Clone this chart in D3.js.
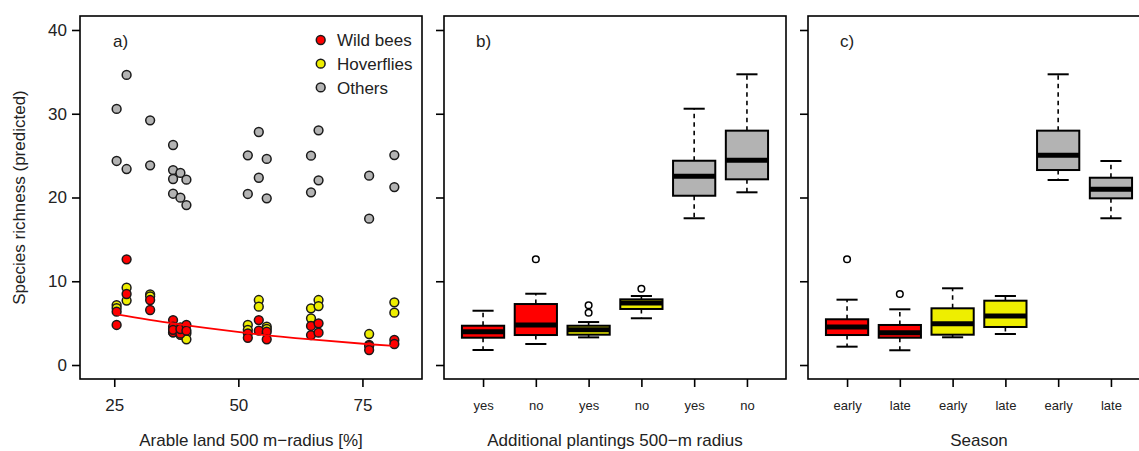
<!DOCTYPE html>
<html>
<head>
<meta charset="utf-8">
<script src="https://cdn.jsdelivr.net/npm/d3@7"></script>
<style>
  html, body { margin: 0; padding: 0; background: #fff; }
  svg { display: block; font-family: "Liberation Sans", Arial, sans-serif; }
</style>
</head>
<body>
<div id="chart"></div>
<script>
// ---- Panel a: predicted richness along the arable-land gradient ----
const othersX = [25.48, 25.48, 27.49, 27.49, 32.23, 32.23, 36.85, 36.85, 36.85, 36.85, 38.33, 38.33, 39.54, 39.54,
                 51.91, 51.91, 54.12, 54.12, 55.72, 55.72, 64.64, 64.64, 66.16, 66.16, 76.35, 76.35, 81.43, 81.43];
const othersY = [30.57, 24.36, 34.63, 23.40, 29.21, 23.84, 26.27, 23.28, 22.21, 20.45, 22.93, 19.98, 22.13, 19.10,
                 25.04, 20.42, 27.82, 22.36, 24.60, 19.90, 24.99, 20.62, 28.02, 22.05, 22.60, 17.47, 25.07, 21.25];

const hoverX = [25.48, 25.48, 27.49, 27.49, 32.23, 32.23, 36.85, 36.85, 38.33, 38.33, 39.54, 39.54,
                51.91, 51.91, 54.12, 54.12, 55.72, 55.72, 64.64, 64.64, 66.16, 66.16, 76.35, 76.35, 81.43, 81.43];
const hoverY = [7.16, 6.80, 9.23, 7.70, 8.44, 8.20, 4.40, 3.90, 4.50, 3.60, 3.78, 3.07,
                4.78, 4.20, 7.76, 6.96, 4.58, 4.30, 6.77, 5.57, 7.76, 7.04, 3.70, 2.40, 7.49, 6.25];

const beesX = [25.48, 25.48, 27.49, 27.49, 32.23, 32.23, 36.85, 36.85, 36.85, 36.85, 38.33, 38.33, 39.54, 39.54,
               51.91, 51.91, 54.12, 54.12, 55.72, 55.72, 64.64, 64.64, 66.16, 66.16, 76.35, 76.35, 81.43, 81.43];
const beesY = [6.37, 4.78, 12.62, 8.48, 7.76, 6.57, 5.37, 4.58, 3.90, 4.20, 3.74, 4.30, 4.78, 4.10,
               3.78, 3.25, 5.37, 4.10, 3.98, 3.07, 4.66, 3.58, 4.98, 3.86, 2.27, 1.79, 2.99, 2.51];

// fitted wild-bee trend
const beeFitX = [25.48, 36.85, 51.91, 64.64, 76.35, 81.43];
const beeFitY = [6.05, 4.96, 3.81, 3.05, 2.48, 2.27];

const arableTicks = [25, 50, 75];
const richnessTicks = [0, 10, 20, 30, 40];

const legendLabels = ["Wild bees", "Hoverflies", "Others"];
const groupColors = ["#ff0000", "#eeee00", "#b3b3b3"];

// ---- Panel b: additional plantings ----
const plantingLabels = ["yes", "no", "yes", "no", "yes", "no"];
const plantingGroup  = [0, 0, 1, 1, 2, 2];
const plantingLow    = [1.79, 2.51, 3.30, 5.58, 17.52, 20.62];
const plantingQ1     = [3.26, 3.58, 3.62, 6.69, 20.21, 22.17];
const plantingMed    = [3.98, 4.78, 4.20, 7.40, 22.53, 24.44];
const plantingQ3     = [4.69, 7.28, 4.69, 7.84, 24.39, 27.98];
const plantingHigh   = [6.48, 8.51, 5.13, 8.24, 30.60, 34.71];
const plantingOut    = [[], [12.62], [6.24, 7.13], [9.11], [], []];

// ---- Panel c: season ----
const seasonLabels = ["early", "late", "early", "late", "early", "late"];
const seasonGroup  = [0, 0, 1, 1, 2, 2];
const seasonLow    = [2.19, 1.76, 3.31, 3.70, 22.09, 17.52];
const seasonQ1     = [3.58, 3.26, 3.62, 4.54, 23.28, 19.90];
const seasonMed    = [4.54, 3.86, 4.93, 5.85, 25.04, 20.98];
const seasonQ3     = [5.46, 4.78, 6.77, 7.68, 27.98, 22.36];
const seasonHigh   = [7.80, 6.65, 9.16, 8.24, 34.71, 24.36];
const seasonOut    = [[12.62], [8.48], [], [], [], []];

const W = 1139, H = 451;
const plotTop = 16, plotBottom = 379;
const panelW = 342;
const panelLeft = [80, 444, 808];
const lw = 1.6;

const svg = d3.select("#chart").append("svg")
  .attr("width", W).attr("height", H);

const y = d3.scaleLinear().domain([-1.67, 41.67]).range([plotBottom, plotTop]);

function frame(x0) {
  svg.append("rect")
    .attr("x", x0).attr("y", plotTop)
    .attr("width", panelW).attr("height", plotBottom - plotTop)
    .attr("fill", "none").attr("stroke", "#000").attr("stroke-width", lw);
}

function yAxis(x0, withLabels) {
  const g = svg.append("g").attr("transform", `translate(${x0},0)`);
  const ax = d3.axisLeft(y).tickValues(richnessTicks).tickSize(8).tickPadding(5)
    .tickFormat(withLabels ? d3.format("d") : () => "");
  g.call(ax);
  g.select(".domain").remove();
  g.selectAll(".tick line").attr("stroke", "#000").attr("stroke-width", lw);
  g.selectAll(".tick text").attr("font-size", 17).attr("fill", "#222")
    .attr("font-family", "Liberation Sans, Arial, sans-serif");
}

function xAxis(scale, ticks, labels, fontSize, pad) {
  const g = svg.append("g").attr("transform", `translate(0,${plotBottom})`);
  const ax = d3.axisBottom(scale).tickValues(ticks).tickSize(8).tickPadding(pad)
    .tickFormat((d, i) => labels[i]);
  g.call(ax);
  g.select(".domain").remove();
  g.selectAll(".tick line").attr("stroke", "#000").attr("stroke-width", lw);
  g.selectAll(".tick text").attr("font-size", fontSize).attr("fill", "#222")
    .attr("font-family", "Liberation Sans, Arial, sans-serif");
}

function axisTitle(x0, text) {
  svg.append("text")
    .attr("x", x0 + panelW / 2).attr("y", 446)
    .attr("text-anchor", "middle").attr("font-size", 17).attr("fill", "#222")
    .text(text);
}

function panelTag(x, text) {
  svg.append("text").attr("x", x).attr("y", 47)
    .attr("font-size", 17).attr("fill", "#222").text(text);
}

// ---------- Panel a ----------
const xa = d3.scaleLinear().domain([18.1, 87.0]).range([panelLeft[0], panelLeft[0] + panelW]);

const pointR = 4.4;
function scatter(xs, ys, color) {
  svg.append("g").selectAll("circle")
    .data(xs.map((d, i) => [d, ys[i]]))
    .join("circle")
    .attr("cx", d => xa(d[0])).attr("cy", d => y(d[1]))
    .attr("r", pointR)
    .attr("fill", color).attr("stroke", "#1a1a1a").attr("stroke-width", 1.5);
}
scatter(othersX, othersY, groupColors[2]);
scatter(hoverX, hoverY, groupColors[1]);
scatter(beesX, beesY, groupColors[0]);

svg.append("path")
  .datum(beeFitX.map((d, i) => [d, beeFitY[i]]))
  .attr("d", d3.line().x(d => xa(d[0])).y(d => y(d[1])).curve(d3.curveMonotoneX))
  .attr("fill", "none").attr("stroke", "#ff0000").attr("stroke-width", 1.8);

// legend
const legend = svg.append("g");
legendLabels.forEach((lab, i) => {
  const ly = 40 + i * 23.7;
  legend.append("circle").attr("cx", 320.7).attr("cy", ly).attr("r", pointR)
    .attr("fill", groupColors[i]).attr("stroke", "#1a1a1a").attr("stroke-width", 1.5);
  legend.append("text").attr("x", 337).attr("y", ly).attr("dy", "0.36em")
    .attr("font-size", 17).attr("fill", "#222").text(lab);
});

frame(panelLeft[0]);
yAxis(panelLeft[0], true);
xAxis(xa, arableTicks, arableTicks.map(String), 17, 12);
axisTitle(panelLeft[0], "Arable land 500 m\u2212radius [%]");
panelTag(113, "a)");

svg.append("text")
  .attr("transform", `translate(25,${(plotTop + plotBottom) / 2}) rotate(-90)`)
  .attr("text-anchor", "middle").attr("font-size", 17).attr("fill", "#222")
  .text("Species richness (predicted)");

// ---------- Boxplot panels ----------
function boxPanel(x0, labels, groups, low, q1, med, q3, high, outs, title, tag) {
  const xs = d3.scaleLinear().domain([0.26, 6.74]).range([x0, x0 + panelW]);
  const pos = labels.map((d, i) => i + 1);
  const bw = xs(1.4) - xs(1);      // half box width (boxwex 0.8)
  const cap = bw / 2;
  const g = svg.append("g");
  pos.forEach((p, i) => {
    const cx = xs(p);
    // dashed whiskers
    g.append("line").attr("x1", cx).attr("x2", cx).attr("y1", y(q3[i])).attr("y2", y(high[i]))
      .attr("stroke", "#000").attr("stroke-width", lw).attr("stroke-dasharray", "4.5,4");
    g.append("line").attr("x1", cx).attr("x2", cx).attr("y1", y(q1[i])).attr("y2", y(low[i]))
      .attr("stroke", "#000").attr("stroke-width", lw).attr("stroke-dasharray", "4.5,4");
    // staples
    [low[i], high[i]].forEach(v => {
      g.append("line").attr("x1", cx - cap).attr("x2", cx + cap).attr("y1", y(v)).attr("y2", y(v))
        .attr("stroke", "#000").attr("stroke-width", lw + 0.4);
    });
    // box
    g.append("rect").attr("x", cx - bw).attr("width", 2 * bw)
      .attr("y", y(q3[i])).attr("height", y(q1[i]) - y(q3[i]))
      .attr("fill", groupColors[groups[i]]).attr("stroke", "#000").attr("stroke-width", lw + 0.4);
    // median
    g.append("line").attr("x1", cx - bw).attr("x2", cx + bw).attr("y1", y(med[i])).attr("y2", y(med[i]))
      .attr("stroke", "#000").attr("stroke-width", 5);
    // outliers
    outs[i].forEach(v => {
      g.append("circle").attr("cx", cx).attr("cy", y(v)).attr("r", 3.3)
        .attr("fill", "none").attr("stroke", "#000").attr("stroke-width", 1.5);
    });
  });
  frame(x0);
  yAxis(x0, false);
  xAxis(xs, pos, labels, 13, 14);
  axisTitle(x0, title);
  panelTag(x0 + 32, tag);
}

boxPanel(panelLeft[1], plantingLabels, plantingGroup, plantingLow, plantingQ1, plantingMed, plantingQ3,
         plantingHigh, plantingOut, "Additional plantings 500\u2212m radius", "b)");
boxPanel(panelLeft[2], seasonLabels, seasonGroup, seasonLow, seasonQ1, seasonMed, seasonQ3,
         seasonHigh, seasonOut, "Season", "c)");
</script>
</body>
</html>
